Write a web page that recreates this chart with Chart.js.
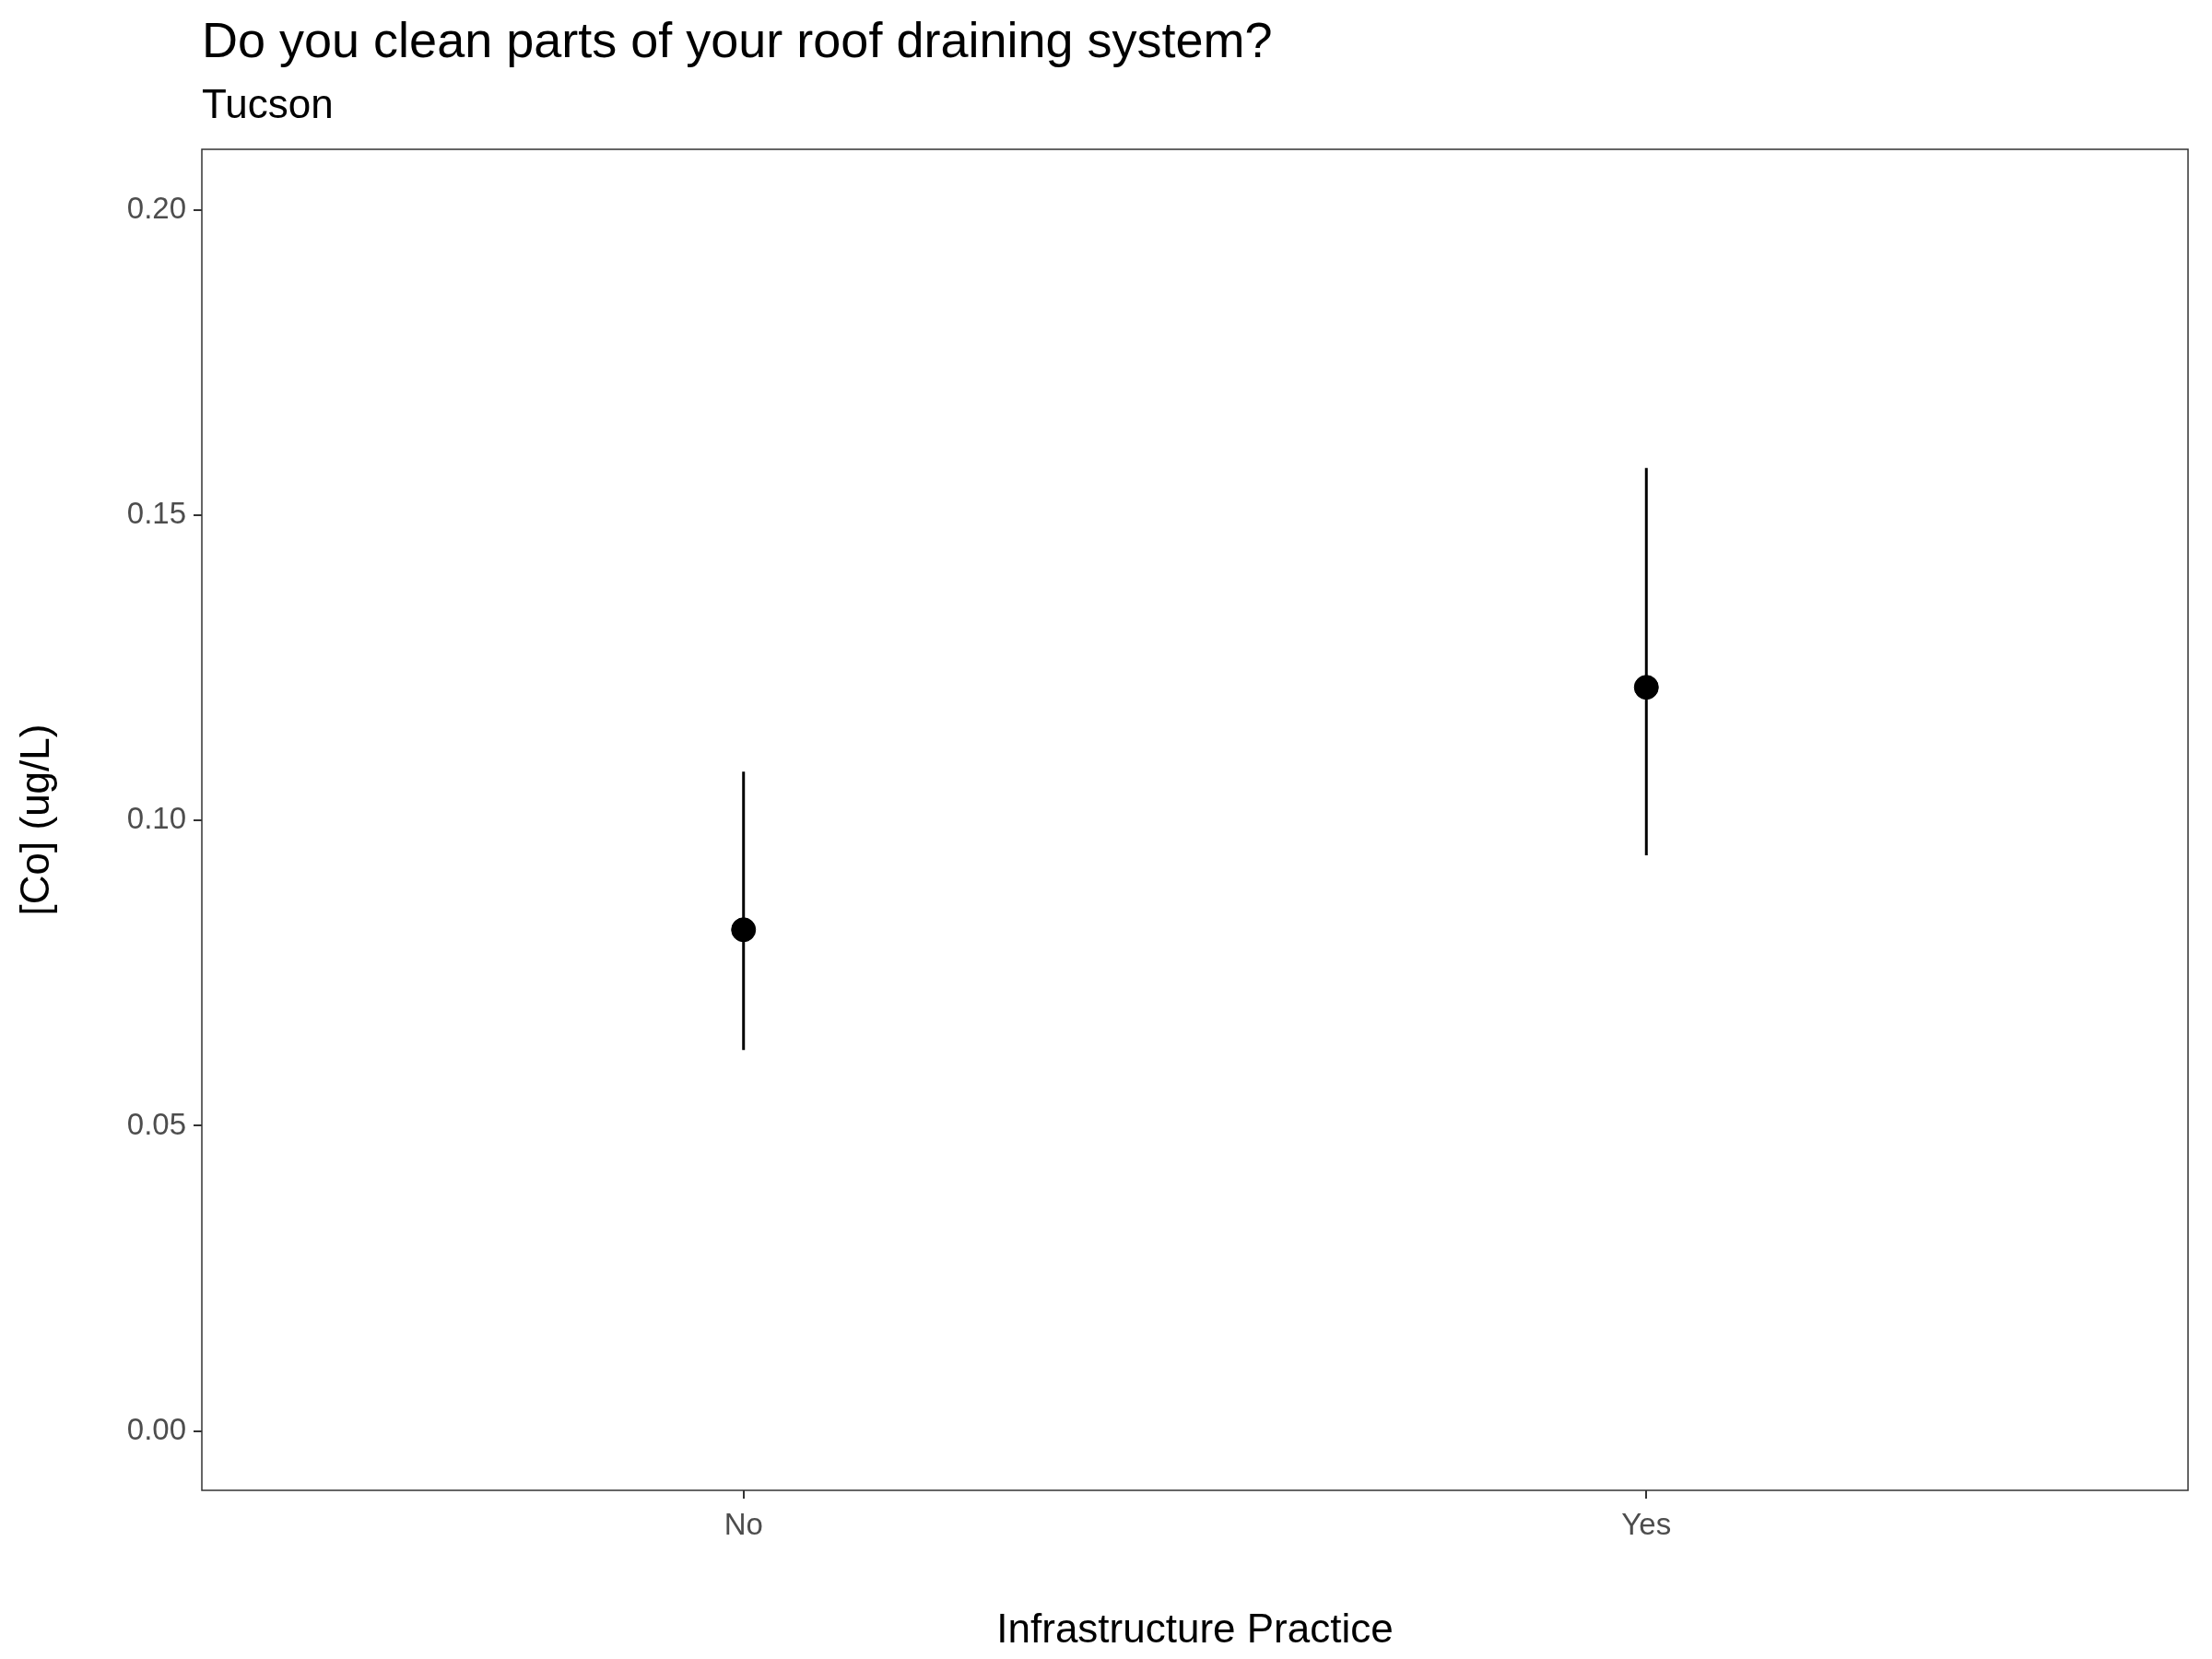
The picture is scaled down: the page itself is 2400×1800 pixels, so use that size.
<!DOCTYPE html>
<html><head><meta charset="utf-8">
<script src="https://cdn.jsdelivr.net/npm/chart.js@4/dist/chart.umd.min.js"></script>
<style>html,body{margin:0;padding:0;background:#fff}#w{width:2400px;height:1800px}</style>
</head><body><div id="w"><canvas id="c"></canvas></div>
<script>
const categories = ["No", "Yes"];
const means = [0.0821, 0.1218];
const lower = [0.0624, 0.0943];
const upper = [0.1080, 0.1577];
const yTicks = [0, 0.05, 0.10, 0.15, 0.20];
const titleText = "Do you clean parts of your roof draining system?";
const subtitleText = "Tucson";
const FONT = "'Liberation Sans', Arial, sans-serif";

const errPlugin = {
  id: 'err',
  beforeDatasetsDraw(chart) {
    const ctx = chart.ctx, xs = chart.scales.x, ys = chart.scales.y;
    ctx.save(); ctx.strokeStyle = '#000'; ctx.lineWidth = 3;
    categories.forEach((c, i) => {
      const x = xs.getPixelForValue(i + 1);
      ctx.beginPath(); ctx.moveTo(x, ys.getPixelForValue(lower[i])); ctx.lineTo(x, ys.getPixelForValue(upper[i])); ctx.stroke();
    });
    ctx.restore();
  },
  afterDraw(chart) {
    const ctx = chart.ctx, a = chart.chartArea;
    ctx.save(); ctx.strokeStyle = '#333'; ctx.lineWidth = 1.5;
    ctx.strokeRect(a.left, a.top, a.right - a.left, a.bottom - a.top);
    ctx.fillStyle = '#000'; ctx.textBaseline = 'alphabetic'; ctx.textAlign = 'left';
    ctx.font = '54px ' + FONT; ctx.fillText(titleText, 219, 62);
    ctx.font = '44px ' + FONT; ctx.fillText(subtitleText, 219, 128);
    ctx.restore();
  }
};

new Chart(document.getElementById('c'), {
  type: 'scatter',
  data: { datasets: [{
    data: means.map((m, i) => ({ x: i + 1, y: m })),
    backgroundColor: '#000', borderColor: '#000', pointRadius: 13, pointHoverRadius: 13
  }]},
  options: {
    responsive: true, maintainAspectRatio: false, animation: false,
    layout: { padding: { left: 0, top: 162, right: 26, bottom: 0 } },
    plugins: { legend: { display: false }, tooltip: { enabled: false } },
    scales: {
      x: {
        type: 'linear', min: 0.4, max: 2.6,
        afterBuildTicks: s => { s.ticks = categories.map((c, i) => ({ value: i + 1 })); },
        afterFit: s => { s.height = 183; },
        ticks: { callback: v => categories[v - 1] ?? '', color: '#4d4d4d', font: { size: 33, family: FONT }, padding: 10, maxRotation: 0 },
        grid: { drawOnChartArea: false, drawTicks: true, tickLength: 9, color: '#333', lineWidth: 2 },
        border: { display: false },
        title: { display: true, text: 'Infrastructure Practice', color: '#000', font: { size: 44, family: FONT }, padding: { top: 36 } }
      },
      y: {
        min: -0.0097, max: 0.2099,
        afterBuildTicks: s => { s.ticks = yTicks.map(v => ({ value: v })); },
        afterFit: s => { s.width = 219; },
        ticks: { callback: v => v.toFixed(2), color: '#4d4d4d', font: { size: 33, family: FONT }, padding: 8 },
        grid: { drawOnChartArea: false, drawTicks: true, tickLength: 9, color: '#333', lineWidth: 2 },
        border: { display: false },
        title: { display: true, text: '[Co] (ug/L)', color: '#000', font: { size: 44, family: FONT }, padding: { top: 14, bottom: 30 } }
      }
    }
  },
  plugins: [errPlugin]
});
</script></body></html>
